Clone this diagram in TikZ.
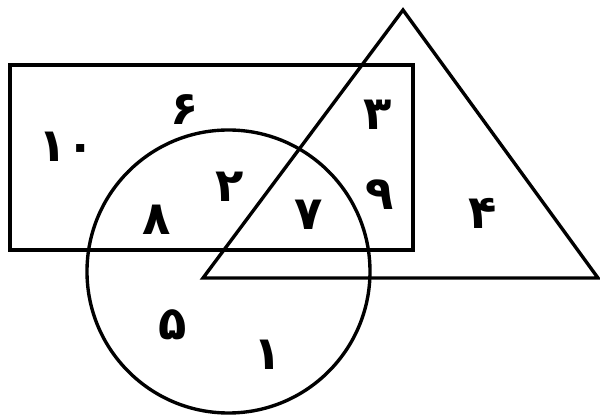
\documentclass[tikz,border=0pt]{standalone}
\usepackage{fontspec}
\newfontfamily\farsi[Script=Arabic]{DejaVu Sans}

\begin{document}
\begin{tikzpicture}[x=0.025cm, y=-0.025cm, line width=2.4pt,
    num/.style={font=\farsi\bfseries\fontsize{33}{33}\selectfont, inner sep=0pt}]
    \useasboundingbox (0,0) rectangle (600,418);

    % Sets
    \draw (10,65) rectangle (413,250);
    \draw (228.5,271.5) circle[radius=141.5];
    \draw (403,10) -- (598,278) -- (203,278) -- cycle;

    % Region labels
    \node[num] (n10) at (67,147) {۱۰};
    \node[num] (n6) at (185,110) {۶};
    \node[num] (n3) at (378,115) {۳};
    \node[num] (n2) at (230,187) {۲};
    \node[num] (n9) at (380,195) {۹};
    \node[num] (n8) at (157,220) {۸};
    \node[num] (n7) at (309,215) {۷};
    \node[num] (n4) at (483,213) {۴};
    \node[num] (n5) at (173,325) {۵};
    \node[num] (n1) at (268,355) {۱};

\end{tikzpicture}
\end{document}
